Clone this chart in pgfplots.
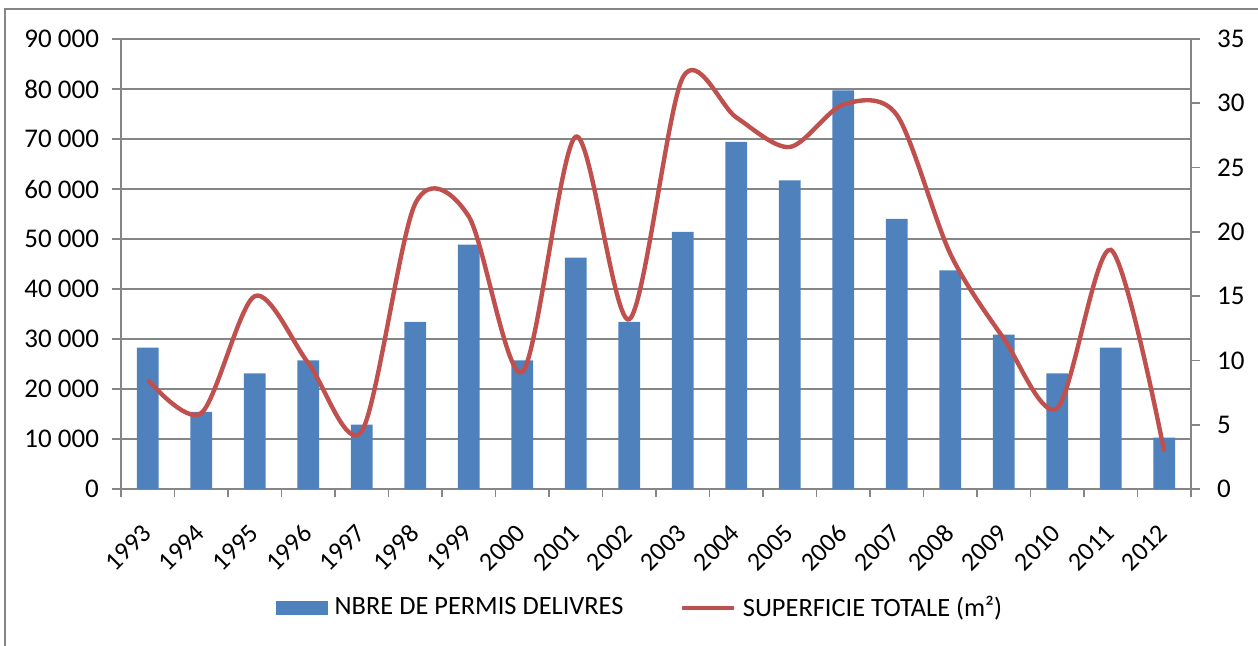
\documentclass[border=0pt]{standalone}
\usepackage{fontspec}
\setmainfont{Carlito}
\usepackage{pgfplots}
\pgfplotsset{compat=1.18}
\definecolor{barblue}{HTML}{4F81BD}
\definecolor{linered}{HTML}{C0504D}
\definecolor{axgray}{HTML}{868686}

\begin{document}
\begin{tikzpicture}[font=\fontsize{13.5}{15}\selectfont]
\path[use as bounding box] (-60.5pt,-78.5pt) rectangle (568.5pt,244.5pt);
\begin{axis}[
  at={(0,0)}, anchor=south west,
  scale only axis, width=535pt, height=225pt,
  xmin=-0.5, xmax=19.5, ymin=0, ymax=90000,
  axis y line*=left, axis x line*=bottom,
  axis line style={axgray, line width=0.8pt, -},
  ymajorgrids, grid style={axgray, line width=0.8pt},
  scaled y ticks=false,
  ytick={0,10000,20000,30000,40000,50000,60000,70000,80000,90000},
  yticklabels={0,10~000,20~000,30~000,40~000,50~000,60~000,70~000,80~000,90~000},
  yticklabel style={xshift=-3pt},
  tick align=outside, major tick length=4.5pt, minor tick length=4pt,
  tick style={axgray, line width=0.8pt},
  xtick={0,...,19},
  xticklabels={1993,1994,1995,1996,1997,1998,1999,2000,2001,2002,2003,2004,2005,2006,2007,2008,2009,2010,2011,2012},
  major x tick style={draw=none},
  minor xtick={-0.5,0.5,...,19.5},
  xticklabel style={yshift=-13pt, xshift=2pt, rotate=45, anchor=east, font=\fontsize{13}{15}\selectfont},
  /pgf/number format/assume math mode=true,
]
\addplot[ybar, bar width=0.41, fill=barblue, draw=none] coordinates {
(0,28286) (1,15429) (2,23143) (3,25714) (4,12857) (5,33429) (6,48857) (7,25714) (8,46286) (9,33429)
(10,51429) (11,69429) (12,61714) (13,79714) (14,54000) (15,43714) (16,30857) (17,23143) (18,28286) (19,10286)};
\end{axis}
\begin{axis}[
  at={(0,0)}, anchor=south west,
  scale only axis, width=535pt, height=225pt,
  xmin=-0.5, xmax=19.5, ymin=0, ymax=35,
  axis y line*=right, axis x line=none,
  axis line style={axgray, line width=0.8pt, -},
  ytick={0,5,...,35},
  yticklabel style={xshift=5pt},
  tick align=outside, major tick length=4.5pt,
  tick style={axgray, line width=0.8pt},
  /pgf/number format/assume math mode=true,
  legend style={at={(0.486,-0.264)}, anchor=center, draw=none, legend columns=2,
    font=\fontsize{13.2}{15}\selectfont,
    /tikz/every odd column/.append style={column sep=1.5pt},
    /tikz/every even column/.append style={column sep=26pt}},
]
\addlegendimage{legend image code/.code={\fill[barblue] (0pt,-3.25pt) rectangle (25.5pt,3.25pt);}}
\addlegendentry{NBRE DE PERMIS DELIVRES}
\addplot[linered, line width=2.2pt, smooth, tension=0.5,
  legend image code/.code={\draw[linered, line width=2.2pt] (0pt,0pt) -- (26pt,0pt);}] coordinates {
(0,8.5) (1,5.9) (2,15.0) (3,9.8) (4,4.5) (5,22.2) (6,21.2) (7,9.1) (8,27.4) (9,13.2)
(10,32.0) (11,28.9) (12,26.6) (13,29.9) (14,29.1) (15,18.3) (16,11.7) (17,6.3) (18,18.6) (19,2.9)};
\addlegendentry{SUPERFICIE TOTALE (m²)}
\end{axis}
\draw[axgray, line width=1pt] (-58pt,-78.5pt) -- (-58pt,240pt) -- (568.5pt,240pt);
\end{tikzpicture}
\end{document}
